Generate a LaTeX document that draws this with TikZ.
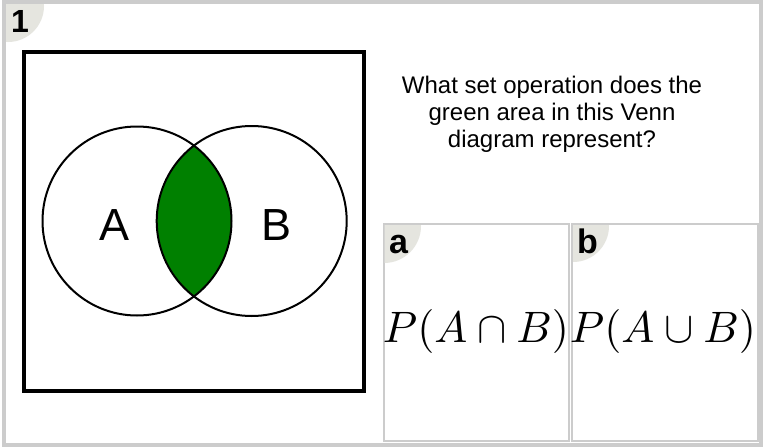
\documentclass[tikz,border=0pt]{standalone}
\usepackage{graphicx}
\usepackage{fontspec}
\setmainfont{Liberation Sans}
\begin{document}
\begin{tikzpicture}[x=1pt,y=-1pt,
  framegray/.style={draw=black!20},
  badge/.style={fill=badgegray},
  badgelabel/.style={anchor=base west,inner sep=0pt,font=\bfseries\fontsize{34}{38}\selectfont},
  venncirc/.style={draw=black,line width=2pt},
  vennlabel/.style={anchor=base,inner sep=0pt,font=\fontsize{45}{50}\selectfont},
  answer/.style={anchor=base,inner sep=0pt,font=\fontsize{10}{12}\selectfont},
  optbox/.style={draw=black!20,line width=2pt,fill=white}]
\definecolor{badgegray}{RGB}{229,229,223}
\definecolor{vgreen}{RGB}{0,128,0}
\useasboundingbox (0,0) rectangle (768,447);
\fill[white] (0,0) rectangle (768,447);
% badge 1
\begin{scope}
  \clip (4,2) rectangle (761,445);
  \fill[badge] (8,6) circle[radius=36];
\end{scope}
\node[badgelabel,font=\bfseries\fontsize{32}{34}\selectfont] (n1) at (11,32) {1};
% outer frame
\draw[framegray,line width=4pt] (4,1.5) rectangle (761,445);
% venn square
\draw[line width=3.5pt] (24,52) rectangle (364,391);
% intersection
\begin{scope}
  \clip (137,221) circle[radius=94.5];
  \fill[vgreen] (251.7,221) circle[radius=95];
\end{scope}
\draw[venncirc] (137,221) circle[radius=94.5];
\draw[venncirc] (251.7,221) circle[radius=95];
\node[vennlabel] (la) at (115,240) {A};
\node[vennlabel] (lb) at (276.5,240) {B};
% question
\node[align=center,inner sep=0pt,font=\fontsize{24}{27}\selectfont] (q) at (552,114)
  {What set operation does the\\green area in this Venn\\diagram represent?};
% option boxes
\draw[optbox] (383.5,224) rectangle (569,441);
\draw[optbox] (572,224) rectangle (758,441);
\begin{scope}
  \clip (384.5,225) rectangle (568,440);
  \fill[badge] (384,226) circle[radius=37];
\end{scope}
\begin{scope}
  \clip (573,225) rectangle (757,440);
  \fill[badge] (573,226) circle[radius=36];
\end{scope}
\node[badgelabel] (ba) at (389,253) {a};
\node[badgelabel] (bb) at (577,253) {b};
\node[answer] (ansa) at (476,342) {\scalebox{4.4}{$P(A\cap B)$}};
\node[answer] (ansb) at (663,342) {\scalebox{4.4}{$P(A\cup B)$}};
\end{tikzpicture}
\end{document}
